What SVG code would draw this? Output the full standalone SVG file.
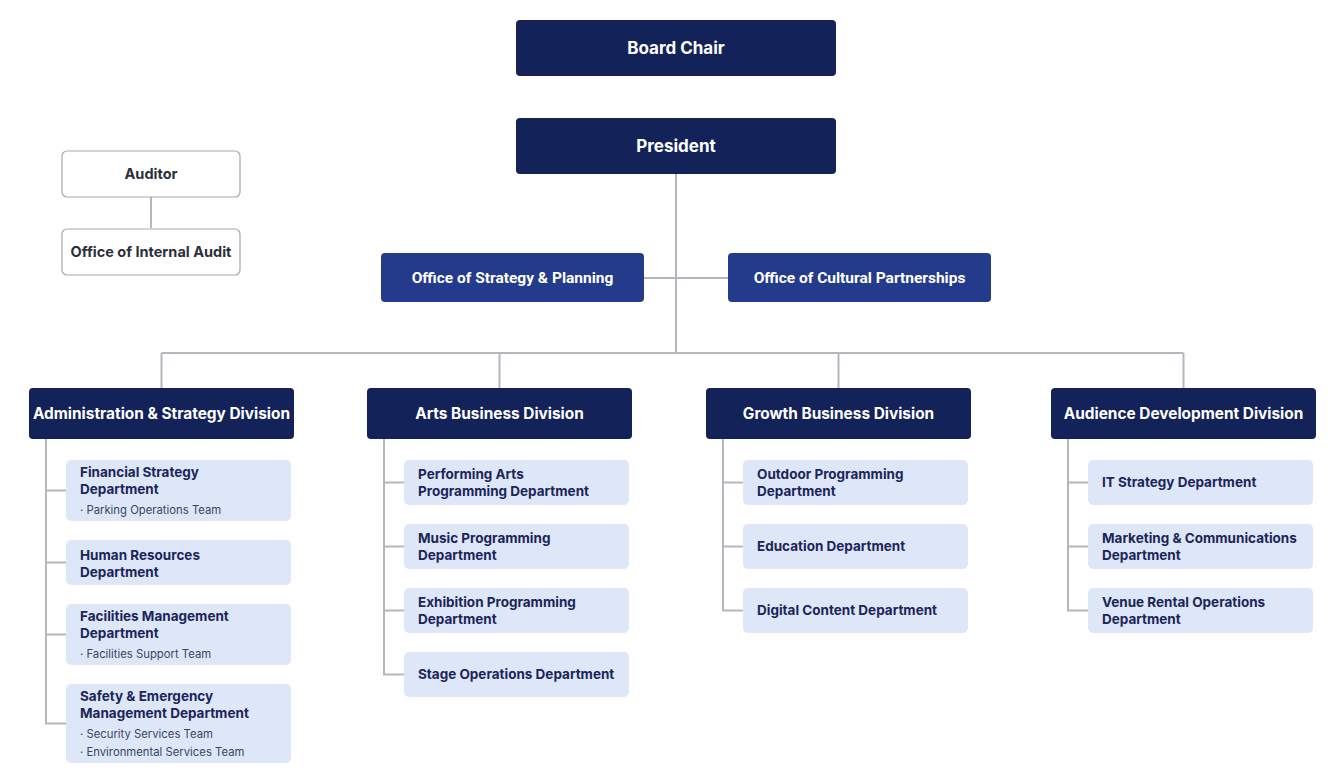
<svg xmlns="http://www.w3.org/2000/svg" width="1334" height="780" viewBox="0 0 1334 780">
<style>
.dark{fill:#13235a}
.off{fill:#243b8b}
.dept{fill:#dde7f8}
.aud{fill:#ffffff;stroke:#a3a7ae;stroke-width:1.2}
.wt{fill:#ffffff;font-family:Inter,"Liberation Sans",sans-serif;font-weight:700;text-anchor:middle}
.ot{fill:#ffffff;font-family:Roboto,"Liberation Sans",sans-serif;font-weight:700;font-size:15.5px;text-anchor:middle}
.at{fill:#2b2f3a;font-family:Inter,"Liberation Sans",sans-serif;font-weight:700;font-size:14.5px;text-anchor:middle}
.dt{fill:#1b2559;font-family:Inter,"Liberation Sans",sans-serif;font-weight:700;font-size:13.5px}
.st{fill:#3a4463;font-family:Inter,"Liberation Sans",sans-serif;font-size:11.3px}
.ln{stroke:#b4b8be;stroke-width:2;fill:none}
</style>
<rect width="1334" height="780" fill="#ffffff"/>
<g id="connectors">
<path class="ln" d="M676 174V353"/>
<path class="ln" d="M644 278H728"/>
<path class="ln" d="M161.5 353H1183.5"/>
<path class="ln" d="M161.5 353V388M499.5 353V388M838.5 353V388M1183.5 353V388"/>
<path class="ln" d="M151 197V228"/>
<path class="ln" d="M46 439V723.5H66M46 490.5H66M46 562.5H66M46 634.5H66"/>
<path class="ln" d="M384 439V674.5H404M384 482.5H404M384 546.5H404M384 610.5H404"/>
<path class="ln" d="M723 439V610.5H743M723 482.5H743M723 546.5H743"/>
<path class="ln" d="M1068 439V610.5H1088M1068 482.5H1088M1068 546.5H1088"/>
</g>
<g id="board-chair"><rect class="dark" x="516" y="20" width="320" height="56" rx="4"/><text class="wt" x="676" y="54" font-size="17">Board Chair</text></g>
<g id="president"><rect class="dark" x="516" y="118" width="320" height="56" rx="4"/><text class="wt" x="676" y="152" font-size="17">President</text></g>
<g id="auditor"><rect class="aud" x="62" y="151" width="178" height="46" rx="5"/><text class="at" x="151" y="179">Auditor</text></g>
<g id="internal-audit"><rect class="aud" x="62" y="229" width="178" height="46" rx="5"/><text class="at" x="151" y="257">Office of Internal Audit</text></g>
<g id="office-strategy"><rect class="off" x="381" y="253" width="263" height="49" rx="4"/><text class="ot" x="512.5" y="283">Office of Strategy &amp; Planning</text></g>
<g id="office-cultural"><rect class="off" x="728" y="253" width="263" height="49" rx="4"/><text class="ot" x="859.5" y="283">Office of Cultural Partnerships</text></g>
<g id="div-admin"><rect class="dark" x="29" y="388" width="265" height="51" rx="4"/><text class="wt" x="161.5" y="419" font-size="15.4">Administration &amp; Strategy Division</text></g>
<g id="div-arts"><rect class="dark" x="367" y="388" width="265" height="51" rx="4"/><text class="wt" x="499.5" y="419" font-size="15.4">Arts Business Division</text></g>
<g id="div-growth"><rect class="dark" x="706" y="388" width="265" height="51" rx="4"/><text class="wt" x="838.5" y="419" font-size="15.4">Growth Business Division</text></g>
<g id="div-audience"><rect class="dark" x="1051" y="388" width="265" height="51" rx="4"/><text class="wt" x="1183.5" y="419" font-size="15.4">Audience Development Division</text></g>
<g id="dept-financial"><rect class="dept" x="66" y="460" width="225" height="61" rx="5"/><text class="dt" x="80" y="476.5">Financial Strategy</text><text class="dt" x="80" y="494">Department</text><text class="st" x="80" y="514">· Parking Operations Team</text></g>
<g id="dept-hr"><rect class="dept" x="66" y="540" width="225" height="45" rx="5"/><text class="dt" x="80" y="559.5">Human Resources</text><text class="dt" x="80" y="576.5">Department</text></g>
<g id="dept-facilities"><rect class="dept" x="66" y="604" width="225" height="61" rx="5"/><text class="dt" x="80" y="620.5">Facilities Management</text><text class="dt" x="80" y="638">Department</text><text class="st" x="80" y="658">· Facilities Support Team</text></g>
<g id="dept-safety"><rect class="dept" x="66" y="684" width="225" height="79" rx="5"/><text class="dt" x="80" y="700.5">Safety &amp; Emergency</text><text class="dt" x="80" y="718">Management Department</text><text class="st" x="80" y="738">· Security Services Team</text><text class="st" x="80" y="756">· Environmental Services Team</text></g>
<g id="dept-performing"><rect class="dept" x="404" y="460" width="225" height="45" rx="5"/><text class="dt" x="418" y="479">Performing Arts</text><text class="dt" x="418" y="496">Programming Department</text></g>
<g id="dept-music"><rect class="dept" x="404" y="524" width="225" height="45" rx="5"/><text class="dt" x="418" y="543">Music Programming</text><text class="dt" x="418" y="560">Department</text></g>
<g id="dept-exhibition"><rect class="dept" x="404" y="588" width="225" height="45" rx="5"/><text class="dt" x="418" y="607">Exhibition Programming</text><text class="dt" x="418" y="624">Department</text></g>
<g id="dept-stage"><rect class="dept" x="404" y="652" width="225" height="45" rx="5"/><text class="dt" x="418" y="679">Stage Operations Department</text></g>
<g id="dept-outdoor"><rect class="dept" x="743" y="460" width="225" height="45" rx="5"/><text class="dt" x="757" y="479">Outdoor Programming</text><text class="dt" x="757" y="496">Department</text></g>
<g id="dept-education"><rect class="dept" x="743" y="524" width="225" height="45" rx="5"/><text class="dt" x="757" y="551">Education Department</text></g>
<g id="dept-digital"><rect class="dept" x="743" y="588" width="225" height="45" rx="5"/><text class="dt" x="757" y="615">Digital Content Department</text></g>
<g id="dept-it"><rect class="dept" x="1088" y="460" width="225" height="45" rx="5"/><text class="dt" x="1102" y="487">IT Strategy Department</text></g>
<g id="dept-marketing"><rect class="dept" x="1088" y="524" width="225" height="45" rx="5"/><text class="dt" x="1102" y="543">Marketing &amp; Communications</text><text class="dt" x="1102" y="560">Department</text></g>
<g id="dept-venue"><rect class="dept" x="1088" y="588" width="225" height="45" rx="5"/><text class="dt" x="1102" y="607">Venue Rental Operations</text><text class="dt" x="1102" y="624">Department</text></g>
</svg>
